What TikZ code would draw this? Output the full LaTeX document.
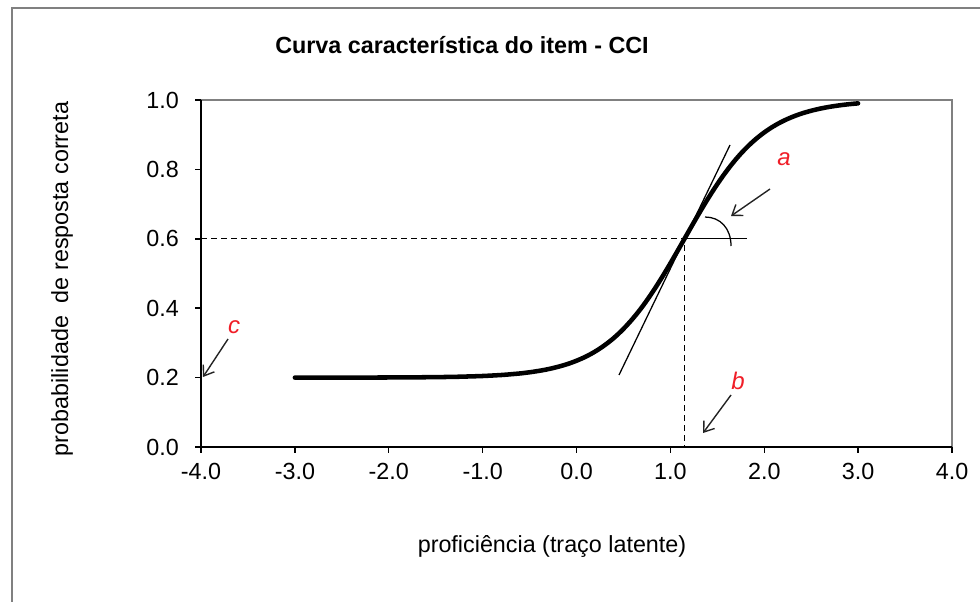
\documentclass[tikz,border=0pt]{standalone}
\usepackage{fontspec}
\setmainfont{Liberation Sans}
\usetikzlibrary{arrows.meta}
\definecolor{lblred}{RGB}{240,30,40}
\definecolor{framegray}{RGB}{128,128,128}
\definecolor{arrowgray}{RGB}{35,35,35}
\tikzset{
  ticklbl/.style={font=\fontsize{17.5}{20}\selectfont, inner sep=0pt},
  axistitle/.style={font=\fontsize{17.5}{20}\selectfont, inner sep=0pt},
  lettlbl/.style={font=\fontsize{18}{20}\selectfont\itshape, text=lblred, inner sep=0pt},
  pointer/.style={draw=arrowgray, line width=1.05pt, -{Straight Barb[length=7pt,width=10pt,line width=1.05pt]}},
  guide/.style={line width=0.95pt, dash pattern=on 4.5pt off 3pt},
  thinline/.style={line width=0.95pt},
}
\begin{document}
\begin{tikzpicture}[x=0.75pt,y=-0.75pt]
\useasboundingbox (0,0) rectangle (980,602);
% outer frame (left and top)
\draw[framegray, line width=1.6pt] (12,602) -- (12,8) -- (980,8);
% plot frame
\draw[framegray, line width=1.6pt] (201,100) -- (952,100) -- (952,447);
\draw[black, line width=1.2pt] (201,100) -- (201,447) -- (952,447);
% y ticks and labels
\foreach \p/\t in {0/0.0,0.2/0.2,0.4/0.4,0.6/0.6,0.8/0.8,1/1.0}{
  \draw[line width=1.1pt] (195,{447-347*\p}) -- (201,{447-347*\p});
  \node[ticklbl, anchor=east] (ylab\t) at (179,{447-347*\p}) {\t};
}
% x ticks and labels
\foreach \v/\t in {-4/-4.0,-3/-3.0,-2/-2.0,-1/-1.0,0/0.0,1/1.0,2/2.0,3/3.0,4/4.0}{
  \draw[line width=1.1pt] ({201+(\v+4)*93.875},447) -- ({201+(\v+4)*93.875},453);
  \node[ticklbl] (xlab\t) at ({201+(\v+4)*93.875},471) {\t};
}
% titles
\node[font=\fontsize{17.5}{20}\selectfont\bfseries, inner sep=0pt] (title) at (462,45) {Curva característica do item - CCI};
\node[axistitle] (xtitle) at (552,546) {proficiência (traço latente)};
\node[axistitle, rotate=90] (ytitle) at (62,279) {probabilidade\ \ de resposta correta};
% guides
\coordinate (bpt) at (684.5,238.8);
\coordinate (yaxpt) at (201,238.8);
\coordinate (xaxpt) at (684.5,447);
\draw[guide] (yaxpt) -- (bpt) -- (xaxpt);
% tangent, horizontal and angle
\coordinate (tanlo) at (619,375);
\coordinate (tanhi) at (730,145);
\coordinate (horend) at (747,238.8);
\draw[thinline] (tanlo) -- (tanhi);
\draw[thinline] (bpt) -- (horend);
\coordinate (arcstart) at (705,217);
\coordinate (arcend) at (731,246);
\draw[thinline] (arcstart) .. controls (720,217) and (731,228) .. (arcend);
% ICC curve
\draw[line width=3.4pt, line cap=round] plot[domain=-3:3, samples=120, smooth]
  ({201+(\x+4)*93.875},{447-347*(0.2+0.8*exp(2.38*(\x-1.15))/(1+exp(2.38*(\x-1.15))))});
% letter labels and pointers
\node[lettlbl] (la) at (784,159) {a};
\coordinate (afrom) at (770,189);
\coordinate (ato) at (731,216);
\draw[pointer] (afrom) -- (ato);
\node[lettlbl] (lb) at (738,381) {b};
\coordinate (bfrom) at (731,395);
\coordinate (bto) at (703,433);
\draw[pointer] (bfrom) -- (bto);
\node[lettlbl] (lc) at (234,327) {c};
\coordinate (cfrom) at (228,339);
\coordinate (cto) at (203,377);
\draw[pointer] (cfrom) -- (cto);
\end{tikzpicture}
\end{document}
